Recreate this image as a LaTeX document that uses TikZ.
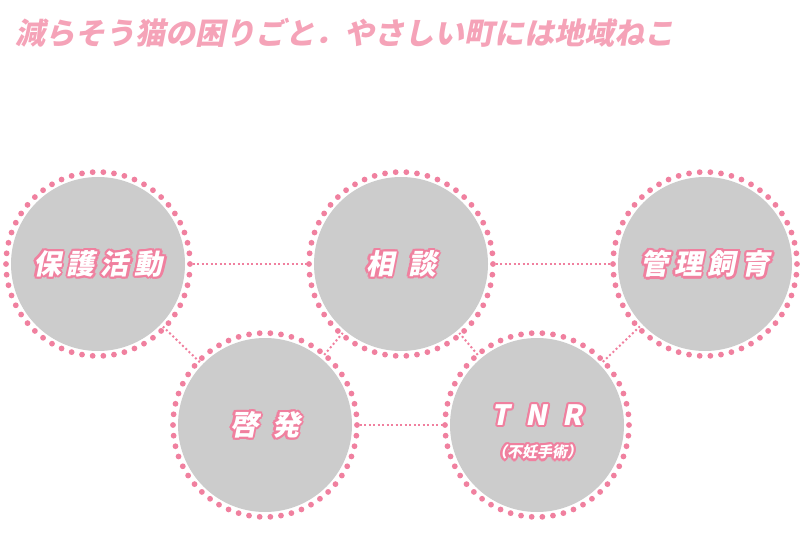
\documentclass[tikz,border=0pt]{standalone}
\usepackage{fontspec}
\newfontfamily\jp[FakeSlant=0.2]{Noto Sans CJK JP}
\definecolor{pk}{HTML}{F0809F}
\definecolor{tpk}{HTML}{F5A3B8}
\definecolor{gr}{HTML}{CCCCCC}
\newcommand{\otext}[3]{%
  \foreach \a in {0,30,...,330}{\node[text=pk,font=#3] at ($(#1)+(\a:2.3)$) {#2};}
  \node[text=white,font=#3] at (#1) {#2};}
\usetikzlibrary{calc}
\tikzset{conn/.style={pk,line width=2pt,dash pattern=on 2pt off 2.5pt}}
\begin{document}
\begin{tikzpicture}[x=1pt,y=-1pt]
\useasboundingbox (0,0) rectangle (800,540);
\node[anchor=west,text=tpk,font=\jp\bfseries\fontsize{30}{30}\selectfont] (title) at (12,33) {減らそう猫の困りごと．やさしい町には地域ねこ};
\coordinate (c1) at (98,264);
\coordinate (c2) at (401,264);
\coordinate (c3) at (705,264);
\coordinate (c4) at (265,425);
\coordinate (c5) at (537,425);
\draw[conn] (c1) -- (c2);
\draw[conn] (c2) -- (c3);
\draw[conn] (c1) -- (c4);
\draw[conn] (c2) -- (c4);
\draw[conn] (c2) -- (c5);
\draw[conn] (c3) -- (c5);
\draw[conn] (c4) -- (c5);
\foreach \c in {c1,c2,c3,c4,c5}{
  \fill[white] (\c) circle (90);
  \fill[gr] (\c) circle (87);
  \foreach \k in {0,...,53}{\fill[pk] ($(\c)+(\k*6.6667:92)$) circle (2.9);}
}
\otext{c1}{保\hspace{6pt}護\hspace{6pt}活\hspace{6pt}動}{\jp\bfseries\fontsize{28}{28}\selectfont}
\otext{c2}{相\hspace{14pt}談}{\jp\bfseries\fontsize{28}{28}\selectfont}
\otext{c3}{管\hspace{6pt}理\hspace{6pt}飼\hspace{6pt}育}{\jp\bfseries\fontsize{28}{28}\selectfont}
\otext{c4}{啓\hspace{14pt}発}{\jp\bfseries\fontsize{28}{28}\selectfont}
\coordinate (t5) at ($(c5)+(0,-10)$);
\coordinate (s5) at ($(c5)+(0,27)$);
\otext{t5}{T\hspace{16pt}N\hspace{16pt}R}{\jp\bfseries\fontsize{28}{28}\selectfont}
\otext{s5}{（不妊手術）}{\jp\bfseries\fontsize{15}{15}\selectfont}
\end{tikzpicture}
\end{document}
